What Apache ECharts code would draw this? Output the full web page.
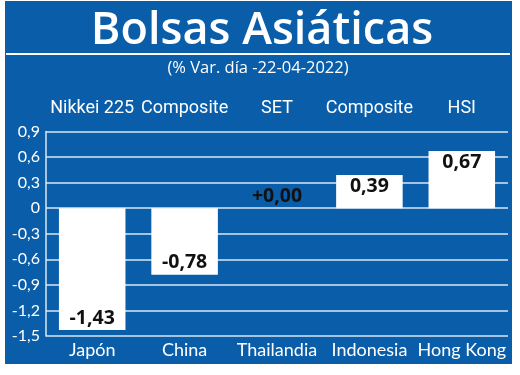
<!DOCTYPE html>
<html><head><meta charset="utf-8">
<script src="https://cdn.jsdelivr.net/npm/echarts@6/dist/echarts.min.js"></script>
<style>html,body{margin:0;padding:0;background:#fff}#c{width:520px;height:375px}</style>
</head><body><div id="c"></div>
<script>
var countries = ['Japón', 'China', 'Thailandia', 'Indonesia', 'Hong Kong'];
var indices = ['Nikkei 225', 'Composite', 'SET', 'Composite', 'HSI'];
var values = [-1.43, -0.78, 0.00, 0.39, 0.67];
var yMin = -1.5, yMax = 0.9, yStep = 0.3;
var titleText = 'Bolsas Asiáticas';
var subtitleText = '(% Var. día -22-04-2022)';

var blue = '#0a5ea9';
var chart = echarts.init(document.getElementById('c'), null, {renderer: 'canvas'});
function fmtNum(v, d) {
  var s = Math.abs(v).toFixed(d).replace('.', ',');
  return (v < 0 ? '-' : '') + s;
}
var data = values.map(function (v) {
  var pos = v < 0 ? 'insideBottom' : (v > 0 ? 'insideTop' : 'top');
  return {value: v, label: {position: pos, distance: v === 0 ? 2 : (v < 0 ? 2 : 1)}};
});
chart.setOption({
  backgroundColor: '#ffffff',
  animation: false,
  graphic: [
    {type: 'rect', z: -10, shape: {x: 5, y: 1, width: 507, height: 363}, style: {fill: blue}},
    {type: 'line', z: 5, shape: {x1: 6, y1: 54, x2: 510, y2: 54}, style: {stroke: '#ffffff', lineWidth: 2}},
    {type: 'text', z: 5, x: 262, y: 31, style: {text: titleText, fill: '#ffffff', align: 'center', verticalAlign: 'middle', font: '600 45px "Open Sans", Lato, sans-serif'}},
    {type: 'text', z: 5, x: 258, y: 68, style: {text: subtitleText, fill: '#ffffff', align: 'center', verticalAlign: 'middle', font: '16.5px "Open Sans", Lato, sans-serif'}}
  ],
  grid: {left: 46, right: 12, top: 131.5, bottom: 39, containLabel: false},
  xAxis: [{
    type: 'category', data: countries, position: 'bottom',
    axisLine: {show: false}, axisTick: {show: false},
    axisLabel: {interval: 0, color: '#ffffff', fontSize: 18, fontFamily: 'Lato, "Open Sans", sans-serif', margin: 5}
  }, {
    type: 'category', data: indices, position: 'top', offset: 6,
    axisLine: {show: false}, axisTick: {show: false},
    axisLabel: {interval: 0, color: '#ffffff', fontSize: 18, fontFamily: 'Roboto, sans-serif'}
  }],
  yAxis: {
    type: 'value', min: yMin, max: yMax, interval: yStep,
    axisLine: {show: true, lineStyle: {color: '#d8e8f6', width: 1.5}},
    axisTick: {show: false},
    splitLine: {show: true, lineStyle: {color: '#d8e8f6', width: 1.5}},
    axisLabel: {color: '#ffffff', fontSize: 16, margin: 6, fontFamily: 'Lato, "Open Sans", sans-serif',
      formatter: function (v) { return Math.abs(v) < 1e-9 ? '0' : fmtNum(v, 1); }}
  },
  series: [{
    type: 'bar', data: data, barWidth: '72%', xAxisIndex: 0,
    itemStyle: {color: '#ffffff'},
    label: {show: true, color: '#111111', fontSize: 19.5, fontFamily: '"Open Sans", sans-serif', fontWeight: 700,
      formatter: function (p) { return p.value === 0 ? '+0,00' : fmtNum(p.value, 2); }}
  }]
});
</script></body></html>
